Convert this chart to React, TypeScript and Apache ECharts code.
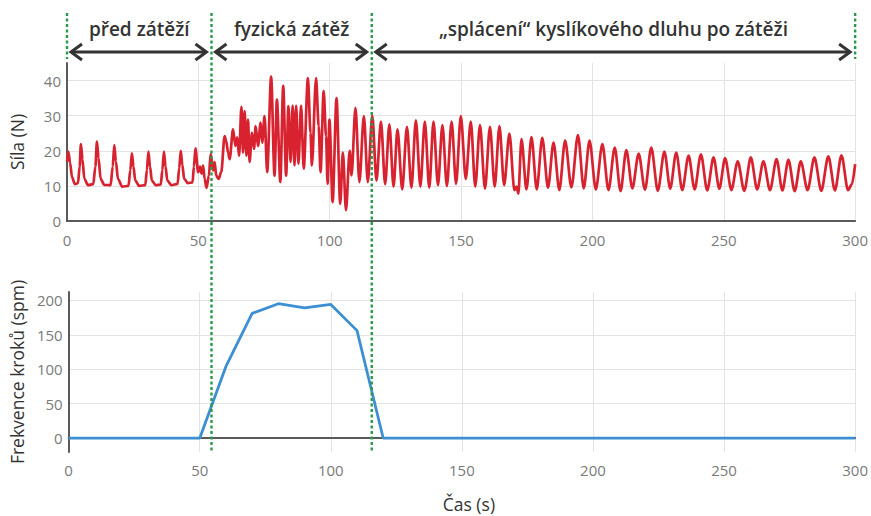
import React, { useEffect, useRef } from 'react';
import * as echarts from 'echarts';

// Force signal (time s, force N)
const forcePre: [number, number][] = [
  [0, 17], [0.5, 19.8], [1.2, 16.5], [1.9, 12.5], [3, 10.5], [4.2, 10.8], [4.8, 15.5],
  [5.3, 21.9], [5.9, 17.5], [6.6, 12], [8, 10.2], [10, 10.5], [10.8, 15.5],
  [11.4, 22.6], [12.0, 18], [12.8, 12], [14.2, 10.3], [16.6, 10.2], [17.4, 15.5],
  [18.0, 21.6], [18.6, 17], [19.4, 12], [21, 9.8], [23.4, 10], [24.1, 14.5],
  [24.7, 19.3], [25.3, 15.5], [26, 11.5], [27.5, 10], [29.8, 10.2], [30.4, 14.5],
  [31.0, 19.8], [31.6, 15.5], [32.3, 11.5], [33.8, 10.2], [35.7, 10.4], [36.3, 14.5],
  [36.9, 19.8], [37.5, 15.5], [38.2, 11.5], [39.8, 10.2], [42.1, 10.6], [42.7, 15],
  [43.3, 20.0], [43.9, 16], [44.6, 12], [46, 10.8], [47.8, 11], [48.3, 15.5],
  [48.9, 20.7], [49.9, 13.9], [50.6, 15.5], [51.2, 13.5], [51.8, 15.8],
  [52.4, 12], [53.1, 9.4], [54.0, 12.9], [54.7, 19.1],
];

const forceExercise: [number, number][] = [
  [55.6, 14.4], [56.2, 16.8], [56.8, 12.9], [57.7, 12.0], [58.7, 13.9],
  [60.0, 24.2], [60.6, 22.8], [61.3, 19.5], [61.9, 17.6], [63.2, 26.1],
  [64.1, 21.4], [64.8, 23.8], [65.5, 18.6], [66.4, 32.5], [67.0, 19.5],
  [67.6, 31.3], [68.3, 18.6], [68.9, 28.9], [69.5, 16.8], [70.4, 25.1],
  [71.2, 20.5], [71.8, 27.0], [72.7, 21.4], [73.7, 28.0], [74.3, 22.3],
  [75.2, 29.9], [76.2, 13.9], [77.7, 41.1], [79.0, 12.9], [79.9, 34.6],
  [81.2, 11.1], [82.3, 38.5], [83.4, 12.9], [84.3, 32.7], [85.1, 16.8],
  [85.9, 32.9], [86.6, 15.8], [87.2, 32.9], [88.1, 16.3], [89.1, 32.9],
  [90.1, 14.9], [91.7, 40.7], [92.7, 25.1], [93.2, 15.8], [94.8, 40.7],
  [95.8, 27.0], [96.5, 13.9], [97.7, 37.0], [98.6, 24.2], [99.2, 10.6],
  [99.9, 28.9], [101.1, 5.4], [102.6, 35.0], [104.0, 4.9], [105.0, 19.5],
  [106.2, 3.1], [107.6, 20.0], [108.3, 13.0], [109.8, 32.2], [111.3, 11.1],
  [113.0, 29.9], [114.5, 11.1],
];

const forceRecovery: [number, number][] = [
  [116.2, 30.0], [117.8, 11.5], [119.5, 28.3], [121.1, 10.5], [122.7, 27.5],
  [124.3, 9.8], [125.8, 26.1], [127.6, 9.0], [129.4, 26.8], [131.1, 9.5],
  [132.8, 28.7], [134.5, 9.8], [136.2, 28.3], [137.9, 9.5], [139.5, 28.3],
  [141.2, 10.2], [142.9, 27.3], [144.6, 10.0], [146.4, 28.3], [148.1, 10.6],
  [149.9, 29.9], [151.8, 12.0], [153.7, 28.3], [155.4, 9.8], [157.2, 27.3],
  [159.1, 9.2], [161.0, 26.8], [162.8, 9.8], [164.6, 27.0], [166.4, 10.2],
  [168.4, 24.9], [170.3, 8.8], [171.1, 9.8], [171.8, 7.8], [173.0, 23.3],
  [174.9, 9.0], [176.8, 23.9], [178.8, 9.0], [180.9, 23.7], [183.1, 9.5],
  [185.2, 22.3], [187.4, 8.8], [189.6, 22.9], [192.0, 9.6], [194.5, 24.5],
  [196.7, 9.3], [198.9, 22.9], [201.3, 9.0], [203.8, 21.9], [206.1, 8.8],
  [208.5, 20.9], [210.7, 8.5], [212.9, 20.2], [215.2, 9.3], [217.6, 19.2],
  [220.0, 8.9], [222.4, 20.9], [224.9, 8.6], [227.4, 19.8], [229.6, 9.2],
  [231.9, 19.5], [234.2, 8.8], [236.6, 18.6], [238.9, 9.0], [241.3, 19.0],
  [243.7, 8.7], [246.1, 18.1], [248.3, 9.2], [250.5, 17.9], [252.9, 8.8],
  [255.3, 17.0], [257.8, 8.6], [260.3, 18.1], [262.7, 9.0], [265.1, 17.0],
  [267.6, 8.8], [270.1, 17.6], [272.3, 8.7], [274.6, 17.4], [277.0, 8.5],
  [279.3, 17.0], [281.9, 8.8], [284.5, 18.1], [287.1, 8.6], [289.8, 18.4],
  [292.3, 8.7], [294.8, 18.7], [297.3, 8.8], [298.8, 10.5], [300, 16.2],
];

// Step frequency (spm) sampled every 10 s
const stepTimes = [0, 10, 20, 30, 40, 50, 60, 70, 80, 90, 100, 110, 120, 130, 140, 150,
  160, 170, 180, 190, 200, 210, 220, 230, 240, 250, 260, 270, 280, 290, 300];
const stepRate = [0, 0, 0, 0, 0, 0, 104, 181, 195, 189, 194, 156, 0, 0, 0, 0,
  0, 0, 0, 0, 0, 0, 0, 0, 0, 0, 0, 0, 0, 0, 0];

const phaseBounds = [0, 55, 116, 300];
const phaseLabels = ['před zátěží', 'fyzická zátěž', '„splácení“ kyslíkového dluhu po zátěži'];

const FONT = '"Open Sans", "Noto Sans", sans-serif';
const AXIS_DARK = '#5a5a5a';
const GRID_LIGHT = '#e3e3e3';
const LABEL_GREY = '#7a7a7a';
const GREEN = '#2a9a48';
const ARROW = '#333333';

export default function App() {
  const ref = useRef<HTMLDivElement>(null);

  useEffect(() => {
    if (!ref.current) return;
    const chart = echarts.init(ref.current, null, { renderer: 'svg' });
    const forceData = [...forcePre, ...forceExercise, ...forceRecovery];
    const stepData = stepTimes.map((t, i) => [t, stepRate[i]]);

    const labelStyle = { color: LABEL_GREY, fontSize: 15, fontFamily: FONT };
    const nameStyle = { color: '#333', fontSize: 17.5, fontFamily: FONT };

    chart.setOption({
      animation: false,
      textStyle: { fontFamily: FONT },
      grid: [
        { left: 67, right: 14, top: 63, height: 158 },
        { left: 67, right: 14, top: 292, height: 160 },
      ],
      xAxis: [
        {
          gridIndex: 0, type: 'value', min: 0, max: 300, interval: 50,
          axisLine: { show: true, lineStyle: { color: AXIS_DARK, width: 2 } },
          axisTick: { show: false },
          axisLabel: { ...labelStyle, margin: 11 },
          splitLine: { show: true, lineStyle: { color: GRID_LIGHT, width: 1 } },
        },
        {
          gridIndex: 1, type: 'value', min: 0, max: 300, interval: 50, position: 'bottom',
          axisLine: { show: false, onZero: false },
          axisTick: { show: false },
          axisLabel: { ...labelStyle, margin: 10 },
          splitLine: { show: true, lineStyle: { color: GRID_LIGHT, width: 1 } },
          name: 'Čas (s)', nameLocation: 'middle', nameGap: 43,
          nameTextStyle: { ...nameStyle, padding: [0, 0, 0, 14] },
        },
        {
          gridIndex: 1, type: 'value', min: 0, max: 300, position: 'bottom',
          axisLine: { show: true, onZero: true, lineStyle: { color: AXIS_DARK, width: 2 } },
          axisTick: { show: false },
          axisLabel: { show: false },
          splitLine: { show: false },
        },
      ],
      yAxis: [
        {
          gridIndex: 0, type: 'value', min: 0, max: 45, interval: 10,
          axisLine: { show: true, lineStyle: { color: AXIS_DARK, width: 2 } },
          axisTick: { show: false },
          axisLabel: { ...labelStyle, margin: 6, showMaxLabel: false },
          splitLine: { show: true, showMaxLine: false, lineStyle: { color: GRID_LIGHT, width: 1 } },
          name: 'Síla (N)', nameLocation: 'middle', nameGap: 41,
          nameTextStyle: nameStyle,
        },
        {
          gridIndex: 1, type: 'value', min: -20, max: 212, splitNumber: 5,
          minInterval: 50, maxInterval: 50,
          axisLine: { show: true, onZero: false, lineStyle: { color: AXIS_DARK, width: 2 } },
          axisTick: { show: false },
          axisLabel: { ...labelStyle, margin: 6, showMinLabel: false, showMaxLabel: false },
          splitLine: { show: true, showMinLine: false, showMaxLine: false, lineStyle: { color: GRID_LIGHT, width: 1 } },
          name: 'Frekvence kroků (spm)', nameLocation: 'middle', nameGap: 41,
          nameTextStyle: nameStyle,
        },
      ],
      series: [
        {
          name: 'Síla', type: 'line', xAxisIndex: 0, yAxisIndex: 0,
          data: forceData, symbol: 'none', showSymbol: false,
          smooth: 0.3, smoothMonotone: 'x',
          lineStyle: { color: '#d8222f', width: 2.7 },
          z: 3,
        },
        {
          name: 'Frekvence kroků', type: 'line', xAxisIndex: 1, yAxisIndex: 1,
          data: stepData, symbol: 'none', showSymbol: false,
          lineStyle: { color: '#3d8fd4', width: 2.8 },
          z: 3,
        },
      ],
    });

    // Annotations placed with the axes' own scales
    const xs = phaseBounds.map((t) => chart.convertToPixel({ xAxisIndex: 0 }, t) as number);
    const plotTop = chart.convertToPixel({ yAxisIndex: 0 }, 45) as number;
    const plotBottom = chart.convertToPixel({ yAxisIndex: 1 }, -20) as number;
    const lineTop = 13;
    const arrowY = 52;
    const textY = 29;
    const head = 11;
    const half = 8;

    const elements: any[] = [];
    xs.forEach((x, i) => {
      const inner = i > 0 && i < xs.length - 1;
      elements.push({
        type: 'line', silent: true, z: 10,
        shape: { x1: x, y1: lineTop, x2: x, y2: inner ? plotBottom : plotTop - 4 },
        style: { stroke: GREEN, lineWidth: 2.4, lineDash: [3, 2.5] },
      });
    });
    for (let i = 0; i < phaseLabels.length; i++) {
      const x1 = xs[i] + 4;
      const x2 = xs[i + 1] - 5;
      elements.push({
        type: 'line', silent: true, z: 10,
        shape: { x1: x1 + 1, y1: arrowY, x2: x2 - 1, y2: arrowY },
        style: { stroke: ARROW, lineWidth: 3 },
      });
      elements.push({
        type: 'polyline', silent: true, z: 10,
        shape: { points: [[x1 + head, arrowY - half], [x1, arrowY], [x1 + head, arrowY + half]] },
        style: { stroke: ARROW, lineWidth: 3, fill: null, lineJoin: 'miter' },
      });
      elements.push({
        type: 'polyline', silent: true, z: 10,
        shape: { points: [[x2 - head, arrowY - half], [x2, arrowY], [x2 - head, arrowY + half]] },
        style: { stroke: ARROW, lineWidth: 3, fill: null, lineJoin: 'miter' },
      });
      elements.push({
        type: 'text', silent: true, z: 10,
        x: (xs[i] + xs[i + 1]) / 2, y: textY,
        style: {
          text: phaseLabels[i], fill: '#333', fontSize: 19, fontWeight: 600,
          fontFamily: FONT, align: 'center', verticalAlign: 'middle',
        },
      });
    }
    chart.setOption({ graphic: elements });

    return () => chart.dispose();
  }, []);

  return (
    <div
      ref={ref}
      style={{ position: 'fixed', left: 0, top: 0, width: 871, height: 516, background: '#fff' }}
    />
  );
}
